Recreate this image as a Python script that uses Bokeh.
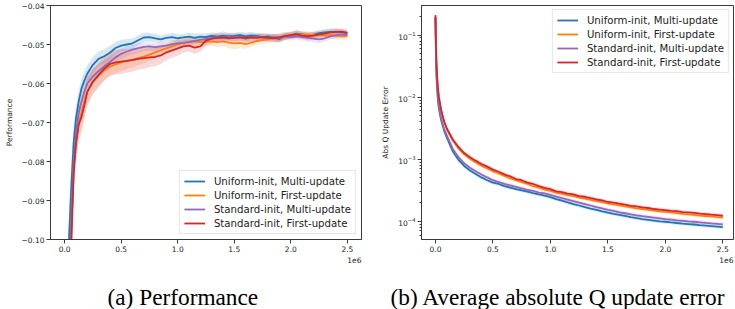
from bokeh.plotting import figure
from bokeh.models import (Range1d, FixedTicker, CustomJSTickFormatter, Legend, LegendItem,
                          Title, LogTicker, ColumnDataSource)
from bokeh.core.properties import value
from bokeh.layouts import row, column
from bokeh.embed import file_html
from bokeh.resources import INLINE

# ---------------- data ----------------
SERIES = ["Uniform-init, Multi-update", "Uniform-init, First-update",
          "Standard-init, Multi-update", "Standard-init, First-update"]
COLORS = ["#1f77b4", "#ff7f0e", "#9467bd", "#d62728"]

# environment steps in millions (axis shows scale 1e6)
STEPS_PERF_M = [0.0, 0.02, 0.04, 0.06, 0.08, 0.10, 0.125, 0.15,
                0.175, 0.20, 0.25, 0.30, 0.35, 0.40, 0.45, 0.50,
                0.55, 0.60, 0.65, 0.70, 0.75, 0.80, 0.85, 0.90,
                0.95, 1.00, 1.05, 1.10, 1.15, 1.20, 1.25, 1.30,
                1.35, 1.40, 1.45, 1.50, 1.55, 1.60, 1.65, 1.70,
                1.75, 1.80, 1.85, 1.90, 1.95, 2.00, 2.05, 2.10,
                2.15, 2.20, 2.25, 2.30, 2.35, 2.40, 2.45, 2.50]

PERF_UNIFORM_MULTI = [-0.250, -0.125, -0.099, -0.086, -0.075, -0.0690, -0.0645, -0.0612,
                      -0.0592, -0.0575, -0.0552, -0.0537, -0.0530, -0.0521, -0.0509, -0.0503,
                      -0.0500, -0.0497, -0.0489, -0.0482, -0.0481, -0.0484, -0.0487, -0.0483,
                      -0.0481, -0.0484, -0.0482, -0.0480, -0.0483, -0.0480, -0.0481, -0.0478,
                      -0.0480, -0.0477, -0.0479, -0.0478, -0.0476, -0.0479, -0.0477, -0.0478,
                      -0.0481, -0.0479, -0.0483, -0.0486, -0.0479, -0.0476, -0.0472, -0.0474,
                      -0.0477, -0.0475, -0.0471, -0.0469, -0.0468, -0.0467, -0.0468, -0.0470]
PERF_UNIFORM_FIRST = [-0.270, -0.155, -0.120, -0.097, -0.082, -0.0750, -0.0700, -0.0675,
                      -0.0645, -0.0620, -0.0595, -0.0580, -0.0566, -0.0557, -0.0551, -0.0546,
                      -0.0542, -0.0539, -0.0535, -0.0531, -0.0526, -0.0520, -0.0515, -0.0510,
                      -0.0505, -0.0500, -0.0496, -0.0493, -0.0492, -0.0494, -0.0493, -0.0492,
                      -0.0494, -0.0492, -0.0495, -0.0497, -0.0496, -0.0499, -0.0495, -0.0491,
                      -0.0489, -0.0487, -0.0484, -0.0483, -0.0480, -0.0477, -0.0474, -0.0475,
                      -0.0474, -0.0476, -0.0475, -0.0477, -0.0476, -0.0478, -0.0479, -0.0478]
PERF_STANDARD_MULTI = [-0.260, -0.145, -0.112, -0.093, -0.080, -0.0725, -0.0675, -0.0645,
                       -0.0620, -0.0600, -0.0582, -0.0568, -0.0556, -0.0545, -0.0533, -0.0524,
                       -0.0518, -0.0513, -0.0509, -0.0506, -0.0505, -0.0507, -0.0505, -0.0503,
                       -0.0499, -0.0497, -0.0496, -0.0494, -0.0491, -0.0488, -0.0486, -0.0484,
                       -0.0482, -0.0483, -0.0481, -0.0483, -0.0482, -0.0484, -0.0482, -0.0480,
                       -0.0482, -0.0483, -0.0481, -0.0482, -0.0480, -0.0481, -0.0479, -0.0481,
                       -0.0483, -0.0485, -0.0487, -0.0484, -0.0479, -0.0476, -0.0474, -0.0475]
PERF_STANDARD_FIRST = [-0.270, -0.160, -0.125, -0.100, -0.083, -0.0755, -0.0705, -0.0685,
                       -0.0655, -0.0622, -0.0595, -0.0578, -0.0562, -0.0550, -0.0546, -0.0544,
                       -0.0542, -0.0540, -0.0537, -0.0535, -0.0533, -0.0532, -0.0528, -0.0520,
                       -0.0515, -0.0510, -0.0505, -0.0503, -0.0508, -0.0505, -0.0490, -0.0485,
                       -0.0483, -0.0482, -0.0484, -0.0483, -0.0481, -0.0484, -0.0482, -0.0483,
                       -0.0481, -0.0483, -0.0484, -0.0482, -0.0478, -0.0476, -0.0474, -0.0477,
                       -0.0479, -0.0477, -0.0474, -0.0472, -0.0469, -0.0468, -0.0467, -0.0470]

# half-width of the shaded spread around each performance curve
SPREAD_UNIFORM_MULTI = [0.012, 0.010, 0.008, 0.006, 0.004, 0.0032, 0.0028, 0.0026,
                        0.0024, 0.0022, 0.0020, 0.0019, 0.0018, 0.0017, 0.0016, 0.0015,
                        0.0014, 0.0013, 0.0012, 0.0012, 0.0011, 0.0011, 0.0010, 0.0010,
                        0.0011, 0.0010, 0.0009, 0.0010, 0.0011, 0.0009, 0.0010, 0.0009,
                        0.0010, 0.0011, 0.0009, 0.0008, 0.0009, 0.0010, 0.0009, 0.0008,
                        0.0009, 0.0008, 0.0009, 0.0010, 0.0009, 0.0008, 0.0009, 0.0008,
                        0.0007, 0.0008, 0.0009, 0.0008, 0.0007, 0.0008, 0.0008, 0.0007]
SPREAD_UNIFORM_FIRST = [0.012, 0.010, 0.008, 0.006, 0.005, 0.0042, 0.0038, 0.0035,
                        0.0033, 0.0031, 0.0029, 0.0027, 0.0025, 0.0024, 0.0023, 0.0022,
                        0.0021, 0.0020, 0.0019, 0.0018, 0.0017, 0.0016, 0.0015, 0.0014,
                        0.0014, 0.0013, 0.0012, 0.0012, 0.0013, 0.0012, 0.0011, 0.0012,
                        0.0013, 0.0012, 0.0014, 0.0015, 0.0013, 0.0012, 0.0011, 0.0010,
                        0.0010, 0.0009, 0.0010, 0.0009, 0.0008, 0.0009, 0.0008, 0.0009,
                        0.0008, 0.0009, 0.0008, 0.0009, 0.0008, 0.0009, 0.0008, 0.0008]
SPREAD_STANDARD_MULTI = [0.012, 0.010, 0.008, 0.006, 0.004, 0.0032, 0.0028, 0.0025,
                         0.0023, 0.0021, 0.0019, 0.0018, 0.0017, 0.0016, 0.0015, 0.0014,
                         0.0013, 0.0012, 0.0012, 0.0011, 0.0011, 0.0010, 0.0010, 0.0009,
                         0.0010, 0.0009, 0.0009, 0.0010, 0.0009, 0.0008, 0.0009, 0.0008,
                         0.0009, 0.0008, 0.0009, 0.0008, 0.0009, 0.0008, 0.0009, 0.0008,
                         0.0008, 0.0009, 0.0008, 0.0009, 0.0008, 0.0009, 0.0008, 0.0009,
                         0.0010, 0.0009, 0.0010, 0.0009, 0.0008, 0.0008, 0.0009, 0.0008]
SPREAD_STANDARD_FIRST = [0.012, 0.010, 0.008, 0.006, 0.005, 0.0045, 0.0042, 0.0040,
                         0.0038, 0.0036, 0.0034, 0.0032, 0.0030, 0.0030, 0.0031, 0.0032,
                         0.0030, 0.0029, 0.0028, 0.0027, 0.0025, 0.0024, 0.0022, 0.0020,
                         0.0019, 0.0018, 0.0016, 0.0015, 0.0016, 0.0014, 0.0013, 0.0012,
                         0.0012, 0.0011, 0.0012, 0.0011, 0.0010, 0.0011, 0.0010, 0.0009,
                         0.0010, 0.0009, 0.0010, 0.0011, 0.0010, 0.0009, 0.0010, 0.0009,
                         0.0010, 0.0009, 0.0008, 0.0009, 0.0010, 0.0009, 0.0008, 0.0008]

STEPS_Q_M = [0.0, 0.005, 0.01, 0.02, 0.03, 0.05, 0.075, 0.10,
             0.15, 0.20, 0.25, 0.30, 0.35, 0.40, 0.45, 0.50,
             0.55, 0.60, 0.65, 0.70, 0.75, 0.80, 0.85, 0.90,
             0.95, 1.00, 1.05, 1.10, 1.15, 1.20, 1.25, 1.30,
             1.35, 1.40, 1.45, 1.50, 1.55, 1.60, 1.65, 1.70,
             1.75, 1.80, 1.85, 1.90, 1.95, 2.00, 2.05, 2.10,
             2.15, 2.20, 2.25, 2.30, 2.35, 2.40, 2.45, 2.50]

QERR_UNIFORM_MULTI = [0.19, 0.045, 0.020, 0.0095, 0.0065, 0.0042, 0.0029, 0.0022,
                      0.00135, 0.00098, 0.00078, 0.00066, 0.00058, 0.00051, 0.00046, 0.00042,
                      0.00040, 0.00037, 0.00035, 0.00033, 0.000315, 0.00030, 0.000285, 0.000272,
                      0.00026, 0.000245, 0.000228, 0.000215, 0.000202, 0.000190, 0.000180, 0.000170,
                      0.000161, 0.000153, 0.000145, 0.000138, 0.000132, 0.000127, 0.000122, 0.000117,
                      0.000113, 0.000109, 0.000106, 0.000103, 0.000100, 0.0000985, 0.0000962, 0.000094,
                      0.000092, 0.0000905, 0.000089, 0.000087, 0.0000855, 0.000084, 0.0000825, 0.000081]
QERR_UNIFORM_FIRST = [0.20, 0.058, 0.029, 0.0145, 0.0097, 0.0060, 0.0040, 0.0030,
                      0.0020, 0.00150, 0.00120, 0.00102, 0.00089, 0.00079, 0.00071, 0.00064,
                      0.00059, 0.00054, 0.00049, 0.00046, 0.00043, 0.00040, 0.00037, 0.00035,
                      0.000325, 0.00031, 0.000289, 0.000278, 0.000264, 0.000255, 0.000241, 0.000232,
                      0.000222, 0.000212, 0.000204, 0.000194, 0.000188, 0.000181, 0.000174, 0.000168,
                      0.000162, 0.000158, 0.000153, 0.000149, 0.000145, 0.000142, 0.000139, 0.000136,
                      0.000132, 0.000130, 0.000127, 0.000124, 0.000122, 0.000120, 0.000117, 0.000115]
QERR_STANDARD_MULTI = [0.19, 0.048, 0.022, 0.0105, 0.0070, 0.0045, 0.0031, 0.0024,
                       0.00148, 0.00108, 0.00086, 0.00073, 0.00064, 0.00057, 0.00051, 0.00046,
                       0.00043, 0.00040, 0.00038, 0.00036, 0.00034, 0.00032, 0.00031, 0.00029,
                       0.000283, 0.000268, 0.000250, 0.000237, 0.000224, 0.000211, 0.000200, 0.000190,
                       0.000180, 0.000170, 0.000162, 0.000153, 0.000147, 0.000140, 0.000135, 0.000130,
                       0.000125, 0.000121, 0.000118, 0.000115, 0.000112, 0.000109, 0.000107, 0.000104,
                       0.000102, 0.000100, 0.0000985, 0.0000965, 0.0000945, 0.0000925, 0.0000910, 0.0000895]
QERR_STANDARD_FIRST = [0.21, 0.060, 0.030, 0.0150, 0.0100, 0.0062, 0.0041, 0.0031,
                       0.0021, 0.00158, 0.00126, 0.00108, 0.00095, 0.00084, 0.00076, 0.00068,
                       0.00063, 0.00057, 0.00053, 0.00048, 0.00046, 0.00042, 0.00040, 0.00037,
                       0.000345, 0.00033, 0.000305, 0.000296, 0.00028, 0.000272, 0.000255, 0.000249,
                       0.000236, 0.000225, 0.000218, 0.000205, 0.000201, 0.000193, 0.000186, 0.000178,
                       0.000174, 0.000168, 0.000164, 0.000158, 0.000155, 0.000152, 0.000148, 0.000146,
                       0.000141, 0.000139, 0.000137, 0.000133, 0.000131, 0.000128, 0.000126, 0.000123]

PERF_Y_TICKS = [-0.10, -0.09, -0.08, -0.07, -0.06, -0.05, -0.04]
X_TICKS_M = [0.0, 0.5, 1.0, 1.5, 2.0, 2.5]

CAPTION_A = "(a) Performance"
CAPTION_B = "(b) Average absolute Q update error"

PERF = [PERF_UNIFORM_MULTI, PERF_UNIFORM_FIRST, PERF_STANDARD_MULTI, PERF_STANDARD_FIRST]
SPREAD = [SPREAD_UNIFORM_MULTI, SPREAD_UNIFORM_FIRST, SPREAD_STANDARD_MULTI, SPREAD_STANDARD_FIRST]
QERR = [QERR_UNIFORM_MULTI, QERR_UNIFORM_FIRST, QERR_STANDARD_MULTI, QERR_STANDARD_FIRST]

SCALE = 1e6
steps_perf = [s * SCALE for s in STEPS_PERF_M]
steps_q = [s * SCALE for s in STEPS_Q_M]

# ---------------- styling helpers ----------------
TICK_FONT = "DejaVu Sans"
AX_COLOR = "#3a3a3a"
x_fmt = CustomJSTickFormatter(code="return (tick/1e6).toFixed(1);")
y_fmt = CustomJSTickFormatter(code="return (tick < 0 ? '\\u2212' : '') + Math.abs(tick).toFixed(2);")

W1, W2 = 368, 367
PLOT_H, CAP_H = 264, 45


def style_axes(p):
    p.grid.visible = False
    p.outline_line_color = AX_COLOR
    p.outline_line_width = 1
    p.background_fill_color = "white"
    p.border_fill_color = "white"
    for ax in p.xaxis + p.yaxis:
        ax.axis_line_color = AX_COLOR
        ax.major_tick_line_color = AX_COLOR
        ax.major_tick_out = 4
        ax.major_tick_in = 0
        ax.minor_tick_out = 2
        ax.minor_tick_in = 0
        ax.minor_tick_line_color = AX_COLOR
        ax.major_label_text_font = TICK_FONT
        ax.major_label_text_font_size = "7.5px"
        ax.major_label_text_color = "#222222"
        ax.major_label_standoff = 2
        ax.axis_label_text_font = TICK_FONT
        ax.axis_label_text_font_size = "7.5px"
        ax.axis_label_text_font_style = "normal"
        ax.axis_label_text_color = "#222222"
        ax.axis_label_standoff = 5
    p.xaxis.ticker = FixedTicker(ticks=[t * SCALE for t in X_TICKS_M])
    p.xaxis.formatter = x_fmt
    p.xaxis.minor_tick_line_color = None
    p.add_layout(Title(text="1e6", align="right", text_font=TICK_FONT, text_font_size="7.5px",
                       text_font_style="normal", text_color="#222222", standoff=0), "below")


def make_legend(p, renderers, location, margin):
    items = [LegendItem(label=lab, renderers=[r]) for lab, r in zip(SERIES, renderers)]
    leg = Legend(items=items, location=location, margin=margin, padding=4, spacing=2,
                 label_height=12, glyph_height=12, glyph_width=21, label_standoff=9,
                 label_text_font=TICK_FONT, label_text_font_size="10.2px", label_text_color="#222222",
                 border_line_color="#cccccc", border_line_width=1, background_fill_alpha=0.85)
    p.add_layout(leg)


def caption_fig(width, text, x_left):
    c = figure(width=width, height=CAP_H, output_backend="svg", toolbar_location=None,
               x_range=Range1d(0, width), y_range=Range1d(0, CAP_H),
               x_axis_type=None, y_axis_type=None, min_border=0)
    c.grid.visible = False
    c.outline_line_color = None
    c.text(x=[x_left], y=[13], text=[text], text_font=value("Liberation Serif"),
           text_font_size=value("23.3px"), text_baseline="alphabetic", text_align="left",
           text_color="#000000")
    return c


# ---------------- (a) Performance ----------------
p1 = figure(width=W1, height=PLOT_H, output_backend="svg", toolbar_location=None,
            x_range=Range1d(-0.125 * SCALE, 2.625 * SCALE), y_range=Range1d(-0.10, -0.04),
            min_border_left=50, min_border_right=7, min_border_top=5, min_border_bottom=25)
style_axes(p1)
p1.yaxis.ticker = FixedTicker(ticks=PERF_Y_TICKS)
p1.yaxis.formatter = y_fmt
p1.yaxis.minor_tick_line_color = None
p1.yaxis.axis_label = "Performance"

for vals, spr, col in zip(PERF, SPREAD, COLORS):
    src = ColumnDataSource(dict(x=steps_perf, lo=[v - s for v, s in zip(vals, spr)],
                                hi=[v + s for v, s in zip(vals, spr)]))
    p1.varea(x="x", y1="lo", y2="hi", source=src, fill_color=col, fill_alpha=0.18)
lines1 = []
for vals, col in zip(PERF, COLORS):
    lines1.append(p1.line(steps_perf, vals, line_color=col, line_width=1.8))
make_legend(p1, lines1, "bottom_right", 5)

# ---------------- (b) Q update error ----------------
p2 = figure(width=W2, height=PLOT_H, output_backend="svg", toolbar_location=None, y_axis_type="log",
            x_range=Range1d(-0.1214 * SCALE, 2.593 * SCALE), y_range=Range1d(5.1e-5, 0.30),
            min_border_left=53, min_border_right=2, min_border_top=3, min_border_bottom=25)
style_axes(p2)
p2.yaxis.ticker = LogTicker(num_minor_ticks=10)
p2.yaxis.axis_label = "Abs Q Update Error"

for vals, col in zip(QERR, COLORS):
    src = ColumnDataSource(dict(x=steps_q, lo=[v * 0.93 for v in vals], hi=[v * 1.08 for v in vals]))
    p2.varea(x="x", y1="lo", y2="hi", source=src, fill_color=col, fill_alpha=0.15)
lines2 = []
for vals, col in zip(QERR, COLORS):
    lines2.append(p2.line(steps_q, vals, line_color=col, line_width=1.8))
make_legend(p2, lines2, "top_right", 4)

c1 = caption_fig(W1, CAPTION_A, 107)
c2 = caption_fig(W2, CAPTION_B, 22)

layout = column(row(p1, p2), row(c1, c2))
open("out.html", "w").write(file_html(layout, INLINE))
